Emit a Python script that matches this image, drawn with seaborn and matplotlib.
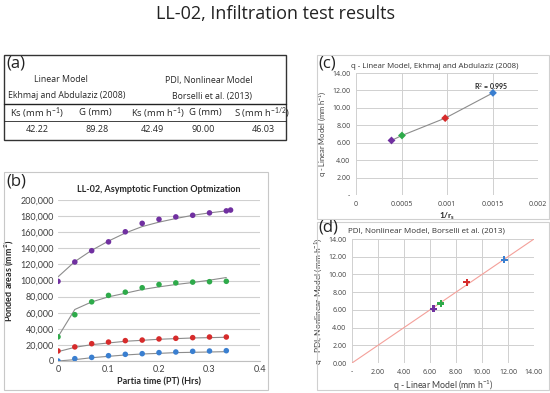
import matplotlib
matplotlib.use('Agg')
import matplotlib.pyplot as plt
import seaborn as sns
import pandas as pd
from matplotlib.patches import Rectangle
from matplotlib.lines import Line2D
from matplotlib.ticker import FuncFormatter

# dados do painel (a)
col_heads = ['Ks (mm h$^{-1}$)', 'G (mm)', 'Ks (mm h$^{-1}$)', 'G (mm)', 'S (mm h$^{-1/2}$)']
col_vals = ['42.22', '89.28', '42.49', '90.00', '46.03']

# dados do painel (b)
tempo = [0, 0.0333, 0.0667, 0.1, 0.1333, 0.1667, 0.2, 0.2333, 0.2667, 0.3, 0.3333]
tempo_roxo = tempo + [0.3417]
roxo = [99000, 123000, 137000, 148000, 160500, 171000, 176000, 179000, 181000, 184000, 186500, 187500]
roxo_fit = [104500, 123500, 137500, 149000, 159000, 167000, 172500, 177000, 181000, 184000, 186500, 187300]
verde = [30000, 57500, 73500, 81500, 85500, 91000, 95000, 97000, 98000, 98500, 99000]
verde_fit = [30000, 64000, 73400, 79700, 84200, 88800, 92100, 95000, 97500, 100400, 103700]
vermelho = [12500, 17500, 21500, 23500, 25300, 26000, 27400, 28200, 29000, 29800, 29800]
vermelho_fit = [11600, 17000, 20300, 22400, 24500, 25700, 27000, 27800, 28600, 29000, 29500]
azul = [0, 2900, 4500, 6600, 8300, 9100, 10400, 11200, 12000, 12400, 12800]
azul_fit = [0, 1700, 4100, 5800, 7500, 8700, 9500, 10400, 10800, 11200, 11600]

# dados dos paineis (c) e (d)
cores = ['#7030a0', '#2eaa4a', '#d62b2b', '#3a7fd0']
inv_rs = [0.00039, 0.000505, 0.00098, 0.001505]
q_linear = [6.26, 6.83, 8.82, 11.72]
q_pdi = [6.13, 6.73, 9.11, 11.65]
linha_11 = [0, 14]

W, H = 550, 393

sns.set_style('white')
plt.rcParams['font.family'] = ['Lato', 'DejaVu Sans']
plt.rcParams['mathtext.fontset'] = 'custom'
plt.rcParams['mathtext.rm'] = 'Lato'
plt.rcParams['mathtext.it'] = 'Lato:italic'
plt.rcParams['mathtext.bf'] = 'Lato:bold'

fig = plt.figure(figsize=(W / 100, H / 100), dpi=100)


def fx(x):
    return x / W


def fy(y):
    return 1 - y / H


def rect(x0, y0, x1, y1):
    return [fx(x0), fy(y1), (x1 - x0) / W, (y1 - y0) / H]


def caixa(x0, y0, x1, y1, cor, lw):
    fig.add_artist(Rectangle((fx(x0), fy(y1)), (x1 - x0) / W, (y1 - y0) / H,
                             transform=fig.transFigure, fill=False, edgecolor=cor, lw=lw))


def linha(x0, x1, y, lw):
    fig.add_artist(Line2D([fx(x0), fx(x1)], [fy(y), fy(y)], transform=fig.transFigure, color='#222222', lw=lw))


OS = ['Open Sans', 'DejaVu Sans']
fig.text(fx(275), fy(14), 'LL-02, Infiltration test results', ha='center', va='center',
         fontsize=13, family=OS, color='#222222')

# ---- painel (a): tabela
caixa(4, 55, 286, 140, '#333333', 1.0)
linha(4, 286, 104, 1.0)
linha(4, 286, 121, 0.6)
fig.text(fx(6), fy(63), '(a)', fontsize=12, family=OS, va='center', color='#222222')
fig.text(fx(61), fy(80), 'Linear Model', ha='center', va='center', fontsize=6.3, family=OS)
fig.text(fx(67), fy(96), 'Ekhmaj and Abdulaziz (2008)', ha='center', va='center', fontsize=6.3, family=OS)
fig.text(fx(209), fy(80), 'PDI, Nonlinear Model', ha='center', va='center', fontsize=6.3, family=OS)
fig.text(fx(212), fy(96), 'Borselli et al. (2013)', ha='center', va='center', fontsize=6.3, family=OS)
for xc, txt in zip([37, 95, 158, 205, 262], col_heads):
    fig.text(fx(xc), fy(113), txt, ha='center', va='center', fontsize=6.8, family=OS)
for xc, txt in zip([37, 97, 152, 203, 263], col_vals):
    fig.text(fx(xc), fy(130), txt, ha='center', va='center', fontsize=6.5, family=OS)

# ---- painel (b)
caixa(4, 172, 268, 390, '#c8c8c8', 0.8)
fig.text(fx(6), fy(181), '(b)', fontsize=12, family=OS, va='center', color='#222222')
axb = fig.add_axes(rect(58, 200, 260, 361))
df_b = pd.DataFrame({'t': tempo * 3, 'v': verde + vermelho + azul,
                     'fit': verde_fit + vermelho_fit + azul_fit,
                     's': ['g'] * 11 + ['r'] * 11 + ['b'] * 11})
df_p = pd.DataFrame({'t': tempo_roxo, 'v': roxo, 'fit': roxo_fit})
sns.lineplot(data=df_p, x='t', y='fit', ax=axb, color='#8c8c8c', lw=0.8)
for s in ['g', 'r', 'b']:
    sns.lineplot(data=df_b[df_b.s == s], x='t', y='fit', ax=axb, color='#8c8c8c', lw=0.8)
sns.scatterplot(data=df_p, x='t', y='v', ax=axb, color=cores[0], s=16, edgecolor='none', zorder=3)
for s, c in zip(['g', 'r', 'b'], cores[1:]):
    sns.scatterplot(data=df_b[df_b.s == s], x='t', y='v', ax=axb, color=c, s=16, edgecolor='none', zorder=3)
axb.set_xlim(0, 0.4)
axb.set_ylim(0, 200000)
axb.set_xticks([0, 0.1, 0.2, 0.3, 0.4])
axb.set_xticklabels(['0', '0.1', '0.2', '0.3', '0.4'])
axb.set_yticks(range(0, 200001, 20000))
axb.yaxis.set_major_formatter(FuncFormatter(lambda v, p: f'{int(v):,}'))
axb.grid(axis='y', color='#d0d0d0', lw=0.8)
axb.set_axisbelow(True)
for sp in ['top', 'right', 'left']:
    axb.spines[sp].set_visible(False)
axb.spines['bottom'].set_color('#bfbfbf')
axb.tick_params(labelsize=6.5, length=0, pad=3, colors='#404040')
axb.set_title('LL-02, Asymptotic Function Optmization', fontsize=6.5, fontweight='bold', pad=6)
axb.set_xlabel('Partia time (PT) (Hrs)', fontsize=6.5, fontweight='bold', labelpad=2)
axb.set_ylabel(r'Ponded areas (mm$^\mathbf{2}$)', fontsize=6.5, fontweight='bold', labelpad=3)

# ---- painel (c)
caixa(317, 55, 549, 219, '#d0d0d0', 0.8)
fig.text(fx(318), fy(63), '(c)', fontsize=12, family=OS, va='center', color='#222222')
fig.text(fx(435), fy(66), 'q - Linear Model, Ekhmaj and Abdulaziz (2008)', ha='center', va='center',
         fontsize=5.7, family=OS, color='#333333')
axc = fig.add_axes(rect(356, 73, 538, 195))
df_c = pd.DataFrame({'x': inv_rs, 'y': q_linear, 'cor': cores})
sns.lineplot(data=df_c, x='x', y='y', ax=axc, color='#8c8c8c', lw=0.8)
sns.scatterplot(data=df_c, x='x', y='y', hue='cor', palette=cores, ax=axc, marker='D', s=16,
                edgecolor='none', legend=False, zorder=3)
axc.text(0.00149, 12.4, 'R$^2$ = 0.995', fontsize=5, fontweight='bold', ha='center', va='center')
axc.set_xlim(0, 0.002)
axc.set_ylim(0, 14)
axc.set_xticks([0, 0.0005, 0.001, 0.0015, 0.002])
axc.set_xticklabels(['0', '0.0005', '0.001', '0.0015', '0.002'])
axc.set_yticks(range(0, 15, 2))
axc.set_yticklabels(['-'] + [f'{v:.2f}' for v in range(2, 15, 2)])
axc.grid(color='#d0d0d0', lw=0.7)
for sp in axc.spines.values():
    sp.set_visible(False)
axc.tick_params(labelsize=5, length=0, pad=4, colors='#404040')
for t in axc.get_xticklabels() + axc.get_yticklabels():
    t.set_family(OS)
axc.set_xlabel(r'$\mathbf{1/r_s}$', fontsize=6, labelpad=2)
axc.set_ylabel('q - Linear Model (mm h$^{-1}$)', fontsize=5.4, labelpad=3, color='#404040')

# ---- painel (d)
caixa(317, 222, 549, 390, '#d0d0d0', 0.8)
fig.text(fx(318), fy(228), '(d)', fontsize=12, family=OS, va='center', color='#222222')
fig.text(fx(426), fy(231), 'PDI, Nonlinear Model, Borselli et al. (2013)', ha='center', va='center',
         fontsize=5.8, family=OS, color='#333333')
axd = fig.add_axes(rect(352, 239, 534, 363))
sns.lineplot(x=linha_11, y=linha_11, ax=axd, color='#f4a09a', lw=0.8)
df_d = pd.DataFrame({'x': q_linear, 'y': q_pdi, 'cor': cores})
sns.scatterplot(data=df_d, x='x', y='y', hue='cor', palette=cores, ax=axd, marker='P', s=24,
                edgecolor='none', legend=False, zorder=3)
axd.set_xlim(0, 14)
axd.set_ylim(0, 14)
axd.set_xticks(range(0, 15, 2))
axd.set_xticklabels(['-'] + [f'{v:.2f}' for v in range(2, 15, 2)])
axd.set_yticks(range(0, 15, 2))
axd.set_yticklabels([f'{v:.2f}' for v in range(0, 15, 2)])
axd.grid(color='#d0d0d0', lw=0.7)
for sp in axd.spines.values():
    sp.set_visible(False)
axd.tick_params(labelsize=5, length=0, pad=4, colors='#404040')
for t in axd.get_xticklabels() + axd.get_yticklabels():
    t.set_family(OS)
axd.set_xlabel('q - Linear Model (mm h$^{-1}$)', fontsize=6.3, labelpad=2, color='#404040')
axd.set_ylabel('q - PDI, Nonlinear Model (mm h$^{-1}$)', fontsize=6.0, labelpad=3, color='#404040')

plt.savefig('out.png', dpi=100)
